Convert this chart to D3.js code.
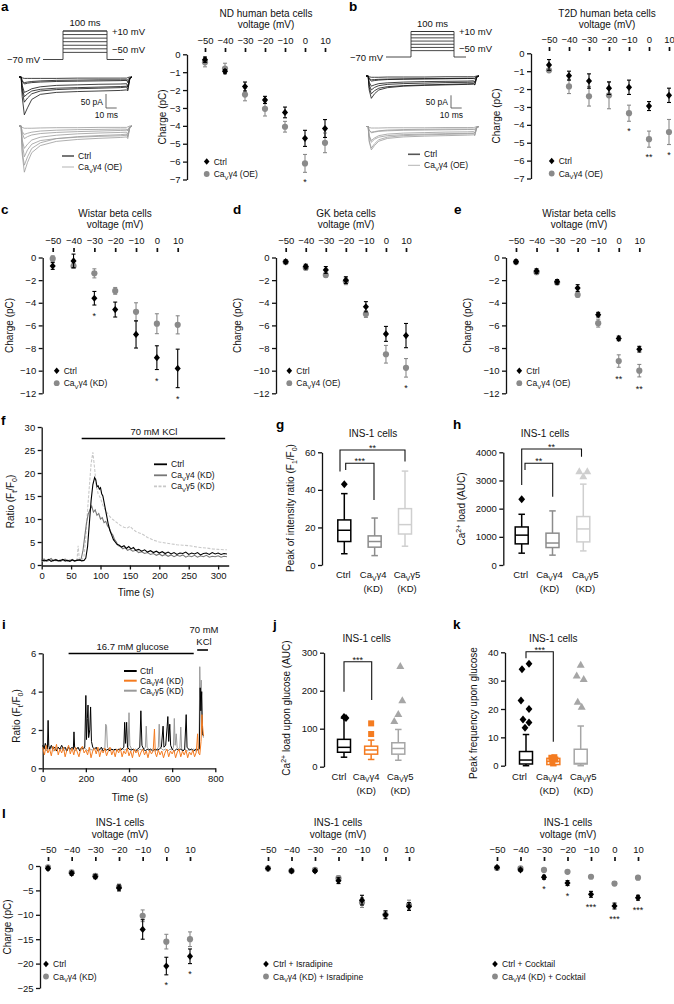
<!DOCTYPE html>
<html><head><meta charset="utf-8">
<script src="https://cdn.jsdelivr.net/npm/d3@7"></script>
<style>body{margin:0;background:#fff}svg{display:block}</style>
</head><body><script>
// ---------------- DATA ----------------
const voltages = [-50,-40,-30,-20,-10,0,10];
// a: ND human beta cells
const aCtrlMean = [-0.3,-0.95,-1.8,-2.55,-3.25,-4.7,-4.15];
const aCtrlErr  = [0.15,0.1,0.25,0.2,0.3,0.45,0.5];
const aOEMean   = [-0.45,-0.8,-2.25,-3.05,-4.05,-6.1,-4.95];
const aOEErr    = [0.25,0.3,0.35,0.4,0.3,0.5,0.55];
const aStars    = ["","","","","","*",""];
// b: T2D human beta cells
const bCtrlMean = [-0.65,-1.25,-1.55,-1.95,-1.9,-2.95,-2.35];
const bCtrlErr  = [0.3,0.25,0.4,0.35,0.4,0.25,0.4];
const bOEMean   = [-0.95,-1.85,-2.4,-2.35,-3.35,-4.8,-4.4];
const bOEErr    = [0.1,0.4,0.55,0.75,0.45,0.45,0.7];
const bStars    = ["","","","","*","**","*"];
// c: Wistar (KD)
const cCtrlMean = [-0.75,-0.3,-3.6,-4.6,-6.8,-8.85,-9.8];
const cCtrlErr  = [0.3,0.6,0.6,0.66,1.2,1.05,1.7];
const cKDMean   = [-0.1,-0.75,-1.4,-2.95,-4.8,-5.85,-5.95];
const cKDErr    = [0.25,0.2,0.4,0.3,0.8,0.88,0.8];
const cStars    = ["","","*","","","*","*"];
// d: GK (OE)
const dCtrlMean = [-0.37,-0.8,-1.1,-2.0,-4.35,-6.75,-6.9];
const dCtrlErr  = [0.15,0.2,0.3,0.3,0.45,0.66,1.07];
const dOEMean   = [-0.4,-0.9,-1.55,-2.1,-5.0,-8.55,-9.75];
const dOEErr    = [0.15,0.2,0.2,0.3,0.3,0.78,0.82];
const dStars    = ["","","","","","","*"];
// e: Wistar (OE)
const eCtrlMean = [-0.37,-1.2,-2.15,-2.7,-5.05,-7.15,-8.1];
const eCtrlErr  = [0.15,0.2,0.2,0.3,0.2,0.2,0.25];
const eOEMean   = [-0.4,-1.3,-2.2,-3.3,-5.8,-9.15,-10.0];
const eOEErr    = [0.1,0.15,0.1,0.2,0.35,0.55,0.55];
const eStars    = ["","","","","","**","**"];
// l: INS-1 cells
const l1CtrlMean = [-0.5,-1.5,-2.2,-4.5,-13,-20.5,-18.5];
const l1CtrlErr  = [0.3,0.4,0.4,0.6,2.0,1.8,1.5];
const l1KDMean   = [-0.3,-1.3,-2.0,-4.3,-10.2,-15.5,-15];
const l1KDErr    = [0.3,0.4,0.4,0.6,1.2,1.5,1.5];
const l1Stars    = ["","","","","","*","*"];
const l2CtrlMean = [-0.5,-1.0,-1.0,-3.0,-7.0,-10,-8.3];
const l2CtrlErr  = [0.2,0.3,0.3,0.6,1.0,0.8,0.8];
const l2KDMean   = [-0.5,-1.0,-0.8,-2.5,-7.5,-10,-8.0];
const l2KDErr    = [0.2,0.3,0.3,0.5,1.0,0.8,1.0];
const l2Stars    = ["","","","","","",""];
const l3CtrlMean = [-0.3,-0.8,-2.3,-3.5,-5.8,-8.2,-6.5];
const l3CtrlErr  = [0.2,0.3,0.4,0.5,0.6,0.6,0.5];
const l3KDMean   = [-0.4,-0.5,-0.8,-1.2,-2.2,-3.6,-2.4];
const l3KDErr    = [0.2,0.2,0.3,0.3,0.3,0.4,0.4];
const l3Stars    = ["","","*","*","***","***","***"];

// ephys traces: time (ms) and current (pA) per step voltage
const traceTime = [0,2,3,5,8,12,20,35,55,75,95,101,102,104,106];
const aTraceCtrl = [
 [0,0,-3,-5,-5,-5,-5,-5,-4,-4,-4,-4,-2,0,0],
 [0,0,-15,-20,-18,-16,-14,-12,-11,-10,-10,-10,-20,-3,0],
 [0,0,-30,-55,-50,-42,-35,-30,-28,-26,-25,-24,-35,-5,0],
 [0,0,-50,-90,-75,-60,-50,-45,-42,-40,-38,-36,-45,-6,0],
 [0,0,-70,-135,-110,-80,-62,-55,-52,-50,-48,-46,-50,-6,0],
 [0,0,-40,-70,-60,-50,-44,-40,-38,-36,-34,-33,-35,-4,0],
 [0,0,-15,-25,-22,-20,-18,-16,-15,-14,-13,-12,-10,-2,0]];
const aTraceOE = [
 [0,0,-5,-8,-8,-8,-7,-6,-6,-5,-5,-5,-3,0,0],
 [0,0,-20,-30,-26,-22,-18,-15,-13,-12,-11,-11,-18,-3,0],
 [0,0,-50,-80,-65,-50,-40,-33,-28,-25,-23,-22,-30,-4,0],
 [0,0,-90,-140,-110,-80,-60,-45,-38,-34,-31,-29,-40,-5,0],
 [0,0,-100,-165,-130,-95,-70,-55,-48,-44,-41,-39,-45,-5,0],
 [0,0,-60,-110,-85,-65,-52,-45,-40,-37,-35,-33,-35,-4,0],
 [0,0,-25,-45,-38,-32,-27,-23,-20,-18,-16,-15,-12,-2,0]];
const bTraceCtrl = [
 [0,0,-3,-5,-5,-5,-4,-4,-4,-3,-3,-3,-2,0,0],
 [0,0,-10,-15,-14,-13,-12,-11,-10,-10,-9,-9,-12,-2,0],
 [0,0,-25,-40,-35,-30,-27,-24,-22,-21,-20,-19,-25,-3,0],
 [0,0,-45,-70,-58,-48,-42,-38,-35,-33,-31,-30,-35,-4,0],
 [0,0,-55,-88,-70,-55,-46,-40,-37,-35,-33,-32,-35,-4,0],
 [0,0,-35,-55,-45,-38,-33,-30,-28,-26,-25,-24,-25,-3,0],
 [0,0,-12,-20,-18,-16,-14,-13,-12,-11,-10,-10,-8,-1,0]];
const bTraceOE = [
 [0,0,-4,-6,-6,-6,-5,-5,-5,-4,-4,-4,-3,0,0],
 [0,0,-15,-22,-20,-17,-14,-12,-11,-10,-10,-10,-14,-2,0],
 [0,0,-35,-55,-45,-36,-30,-26,-24,-22,-21,-20,-26,-3,0],
 [0,0,-55,-85,-68,-52,-42,-36,-33,-31,-29,-28,-34,-4,0],
 [0,0,-60,-92,-75,-58,-47,-41,-38,-36,-34,-33,-36,-4,0],
 [0,0,-40,-62,-50,-42,-36,-32,-30,-28,-27,-26,-26,-3,0],
 [0,0,-15,-25,-22,-19,-17,-15,-14,-13,-12,-12,-9,-1,0]];

// f: KCl traces [time s, ratio]
const fCtrl = [[0,1.1],[4,0.9],[8,1.0],[12,1.2],[16,0.8],[20,1.0],[24,1.1],[28,0.9],[32,1.0],[36,1.2],[40,0.9],[44,1.0],[48,0.8],[52,1.1],[56,0.9],[60,1.0],[64,1.1],[68,0.9],[72,1.0],[75,1.5],[78,4],[81,9],[84,14],[87,17.5],[90,19],[92,18.5],[94,17],[96,17.2],[98,16.5],[100,16.8],[102,15.5],[104,15],[107,13],[110,11],[113,9],[116,7.5],[119,6.5],[122,5.5],[125,5],[128,4.5],[132,4.3],[136,3.9],[140,4.2],[144,3.6],[148,4.0],[152,3.5],[156,3.8],[160,3.2],[165,3.4],[170,3.0],[175,3.3],[180,2.8],[185,3.1],[190,2.7],[195,3.0],[200,2.6],[205,2.9],[210,2.5],[215,2.8],[220,2.4],[225,2.7],[230,2.3],[235,2.6],[240,2.5],[245,2.8],[250,2.3],[255,2.6],[260,2.4],[265,2.7],[270,2.2],[275,2.5],[280,2.6],[285,2.3],[290,2.7],[295,2.4],[300,2.6],[305,2.3],[310,2.5],[315,2.4]];
const fG4 = [[0,1.0],[4,1.3],[8,0.8],[12,1.1],[16,1.4],[20,0.9],[24,1.2],[28,1.0],[32,0.8],[36,1.1],[40,1.3],[44,0.9],[48,1.0],[52,1.2],[56,0.8],[60,1.1],[64,1.0],[67,1.3],[70,3],[73,6],[76,9],[79,11],[82,12],[85,12.8],[88,11.5],[91,12],[94,10.8],[97,11.2],[100,10],[103,10.3],[106,9.2],[109,9.5],[112,8.5],[115,8],[118,7],[121,6.5],[124,5.5],[127,5],[130,4.2],[134,4],[138,3.5],[142,3.8],[146,3.2],[150,3.4],[155,3.0],[160,3.2],[165,2.7],[170,2.9],[175,2.5],[180,2.7],[185,2.3],[190,2.5],[195,2.1],[200,2.4],[205,2.0],[210,2.3],[215,1.9],[220,2.2],[225,1.8],[230,2.1],[235,1.9],[240,2.2],[245,1.7],[250,2.0],[255,1.8],[260,2.1],[265,1.7],[270,2.0],[275,1.8],[280,2.1],[285,1.7],[290,1.9],[295,1.8],[300,2.0],[305,1.7],[310,1.9],[315,1.8]];
const fG5 = [[0,0.9],[5,1.0],[10,0.8],[15,1.1],[20,1.0],[25,0.9],[30,1.1],[35,1.0],[40,0.8],[45,1.0],[50,1.1],[55,0.9],[60,1.0],[62,4.2],[64,1.2],[68,1.0],[72,2],[75,6],[78,12],[81,17],[84,22],[87,24.5],[90,21],[93,17],[96,15.5],[100,14.5],[104,13],[108,12],[112,11.2],[116,10.5],[120,10],[125,9.5],[130,9],[135,8.5],[140,8.2],[145,8.0],[150,8.4],[155,7.8],[160,7.3],[165,7.0],[170,6.8],[175,6.4],[180,6.0],[185,5.7],[190,5.4],[195,5.2],[200,5.0],[210,4.8],[220,4.6],[230,4.4],[240,4.3],[250,4.2],[260,4.0],[270,3.8],[280,3.7],[290,3.5],[300,3.4],[310,3.3],[315,3.3]];

// i: glucose traces
const iCtrl = [[0,1.2],[6,1.0],[12,1.3],[18,1.1],[22,1.0],[25,2.5],[28,1.2],[32,1.0],[40,1.2],[48,1.0],[56,1.1],[64,0.9],[72,1.1],[80,1.0],[88,1.2],[96,1.0],[104,1.1],[112,0.9],[120,1.1],[128,1.0],[136,1.1],[142,1.0],[145,1.9],[148,1.1],[156,1.0],[164,1.1],[172,0.9],[180,1.1],[188,1.0],[195,1.1],[200,3.8],[203,1.5],[207,2.6],[210,3.3],[213,1.6],[218,2.0],[222,3.2],[226,1.4],[232,1.1],[240,1.0],[248,1.1],[256,0.9],[264,1.0],[272,1.1],[280,0.9],[288,1.0],[296,0.95],[304,1.0],[312,0.9],[320,1.0],[328,0.95],[336,1.0],[344,0.9],[352,1.0],[360,0.95],[368,1.0],[376,1.1],[380,2.4],[384,1.3],[389,2.4],[393,1.1],[400,1.0],[410,0.95],[420,1.0],[430,0.9],[440,1.0],[450,1.1],[455,3.0],[460,1.2],[468,1.0],[476,0.9],[484,1.0],[492,0.95],[500,1.0],[510,0.9],[520,1.0],[530,0.95],[540,1.0],[550,1.1],[558,2.2],[562,1.1],[570,1.2],[577,2.2],[580,2.7],[584,1.4],[589,2.3],[593,1.2],[600,1.0],[610,0.9],[620,1.0],[630,0.95],[640,1.0],[650,0.9],[658,1.0],[665,2.8],[669,1.1],[680,0.95],[690,1.0],[700,0.9],[710,1.0],[720,0.95],[726,1.0],[730,4.2],[733,3.0],[737,4.0],[740,1.8],[745,1.7]];
const iG5 = [[0,1.0],[8,1.1],[16,0.9],[24,1.05],[32,0.95],[40,1.1],[50,0.9],[60,1.0],[70,1.1],[80,0.95],[90,1.05],[100,0.9],[110,1.0],[120,1.1],[130,0.95],[140,1.0],[150,0.9],[160,1.05],[170,1.0],[180,0.95],[190,1.1],[200,1.0],[210,0.9],[220,1.0],[230,0.95],[240,1.05],[250,1.0],[260,0.9],[270,1.0],[280,1.05],[288,1.0],[292,2.3],[296,2.2],[300,1.1],[310,0.95],[320,1.0],[330,0.9],[340,1.0],[350,0.95],[360,1.05],[370,1.0],[380,0.95],[390,1.0],[396,1.1],[400,2.9],[404,1.2],[412,1.0],[420,0.95],[430,1.0],[440,0.9],[450,1.0],[460,0.95],[470,1.0],[476,1.1],[480,2.2],[484,1.1],[492,1.0],[500,0.95],[510,1.0],[520,0.9],[530,1.0],[536,1.1],[540,2.3],[544,1.1],[552,1.0],[560,0.95],[570,1.0],[580,0.9],[590,1.0],[600,0.95],[606,1.1],[610,2.6],[614,1.2],[619,1.8],[623,1.1],[630,1.0],[636,1.1],[640,2.15],[644,1.0],[652,0.95],[660,1.0],[670,0.9],[680,1.0],[690,0.95],[700,1.0],[710,0.9],[720,1.0],[725,1.2],[728,5.3],[731,3.5],[735,4.6],[739,2.0],[745,1.6]];
const iG4 = [[0,1.1],[8,0.7],[16,1.2],[24,0.8],[32,1.0],[40,0.65],[48,1.15],[56,0.9],[64,1.25],[72,0.7],[80,1.0],[88,0.8],[96,1.1],[104,0.6],[112,0.95],[120,1.2],[128,0.75],[136,1.05],[144,0.7],[152,1.1],[160,0.85],[168,0.6],[176,1.0],[184,1.15],[192,0.8],[200,0.95],[208,0.7],[216,1.1],[224,0.55],[232,0.9],[240,1.05],[248,0.75],[256,1.1],[264,0.6],[272,0.95],[280,0.8],[288,1.05],[296,0.65],[304,0.9],[312,1.1],[320,0.7],[328,0.95],[336,0.6],[344,1.0],[352,0.8],[360,1.05],[368,0.6],[376,0.9],[384,0.75],[392,1.05],[400,0.65],[408,0.9],[416,0.55],[424,1.0],[432,0.8],[440,0.95],[448,0.6],[456,0.85],[464,1.0],[472,0.7],[480,0.9],[488,0.55],[496,0.95],[504,0.75],[512,0.9],[518,2.05],[522,0.8],[528,0.6],[536,0.95],[544,0.7],[552,0.9],[560,0.55],[568,0.85],[576,1.0],[584,0.6],[592,0.9],[600,0.75],[608,0.95],[616,0.55],[624,0.85],[632,1.0],[640,0.6],[648,0.9],[656,0.7],[664,0.95],[672,0.55],[680,0.85],[688,0.7],[696,0.95],[704,0.6],[712,0.85],[718,1.8],[722,0.8],[728,0.7],[734,1.4],[738,2.8],[741,2.2],[745,1.7]];

// box plots
const boxCats = ["Ctrl","Ca_{V}γ4","Ca_{V}γ5"];
const boxCats2 = ["","(KD)","(KD)"];
const gMin=[6,5,10], gQ1=[12.5,9.5,16.5], gMed=[18.5,12.5,21.5], gQ3=[24,15.5,30], gMax=[38,25,50], gOut=[[43],[],[]];
const hMin=[420,350,500], hQ1=[750,620,820], hMed=[1060,780,1280], hQ3=[1350,1130,1720], hMax=[1800,1920,2870], hOut=[[2330],[],[3150,3330,3330]];
const jMin=[25,19,17], jQ1=[38,33,33], jMed=[51,44,48], jQ3=[72,54,63], jMax=[128,70,98], jOut=[[131,128],[86,114],[120,139,175,265]];
const kMin=[0,0,0], kQ1=[0.6,0.4,0.6], kMed=[2,1.5,0.8], kQ3=[5,2.6,5.8], kMax=[11,3,14], kOut=[[34,36,23,20,16.3,15.2,13.4],[2.8,2.2,1.6,3.0],[35.6,31.8,30.6,22.6,20.8]];

// ---------------- DRAWING ----------------
const FONT = "'Liberation Sans', Arial, Helvetica, sans-serif";
const GRAY = "#8a8a8a", ORANGE = "#f47b20";
const fmtInt = d3.format("d");
const svg = d3.select("body").append("svg").attr("width",674).attr("height",1004)
  .attr("font-family",FONT).style("background","#fff");

function rich(t,s,fs){
  const parts=s.split(/(_\{[^}]*\}|\^\{[^}]*\})/).filter(p=>p.length);
  let cur=0;
  parts.forEach(p=>{
    let target=0,size=fs,str=p;
    if(p.startsWith("_{")){target=0.3*fs;size=0.7*fs;str=p.slice(2,-1);}
    else if(p.startsWith("^{")){target=-0.4*fs;size=0.7*fs;str=p.slice(2,-1);}
    t.append("tspan").attr("dy",(target-cur).toFixed(2)).attr("font-size",size).text(str);
    cur=target;
  });
}
function txt(x,y,s,opt={}){
  const fs=opt.fs||9.5;
  const t=svg.append("text").attr("x",x).attr("y",y).attr("font-size",fs)
    .attr("fill",opt.fill||"#111").attr("text-anchor",opt.anchor||"start");
  if(opt.weight) t.attr("font-weight",opt.weight);
  if(opt.rotate) t.attr("transform",`rotate(${opt.rotate},${x},${y})`);
  rich(t,s,fs);
  return t;
}
function styleAxis(a){
  a.attr("font-family",FONT).attr("font-size",9.5);
  a.selectAll("path.domain").attr("stroke","#111").attr("stroke-width",1.3);
  a.selectAll(".tick line").attr("stroke","#111").attr("stroke-width",1.3);
  a.selectAll(".tick text").attr("fill","#111");
}
const diamond = (h)=>`M0,${-h}L${h*0.85},0L0,${h}L${-h*0.85},0Z`;

function ivPlot(o){
  const g=svg.append("g");
  const x=d3.scaleLinear().domain([-50,10]).range(o.xr);
  const y=d3.scaleLinear().domain([0,o.yMin]).range([o.y0,o.y1]);
  if(o.title){
    txt(o.tx,o.titleY,o.title,{anchor:"middle",fs:10});
    txt(o.tx,o.titleY+11.5,"voltage (mV)",{anchor:"middle",fs:10});
  }
  const top=g.append("g").attr("transform",`translate(0,${o.markY})`)
    .call(d3.axisTop(x).tickValues(voltages).tickFormat(fmtInt).tickSize(4).tickPadding(4).tickSizeOuter(0));
  styleAxis(top); top.select(".domain").remove();
  top.selectAll(".tick line").attr("stroke-width",1.7);
  if(o.ax!==null){
    const ya=g.append("g").attr("transform",`translate(${o.ax},0)`)
      .call(d3.axisLeft(y).tickValues(o.yTicks).tickFormat(fmtInt).tickSize(4).tickPadding(2.5).tickSizeOuter(0));
    styleAxis(ya);
    txt(o.ylx,(o.y0+o.y1)/2,"Charge (pC)",{anchor:"middle",rotate:-90,fs:10});
  }
  const series=[{m:o.trM,e:o.trE,c:GRAY,shape:"circle"},{m:o.ctM,e:o.ctE,c:"#000",shape:"diamond"}];
  series.forEach(s=>{
    const d=voltages.map((v,i)=>({v,m:s.m[i],e:s.e[i]}));
    const gg=g.append("g").attr("stroke",s.c).attr("fill",s.c);
    gg.selectAll("line.v").data(d).join("line").attr("x1",q=>x(q.v)).attr("x2",q=>x(q.v))
      .attr("y1",q=>y(q.m-q.e)).attr("y2",q=>y(q.m+q.e)).attr("stroke-width",1.1);
    gg.selectAll("line.t").data(d.flatMap(q=>[q.m-q.e,q.m+q.e].map(z=>({v:q.v,z})))).join("line")
      .attr("x1",q=>x(q.v)-2).attr("x2",q=>x(q.v)+2).attr("y1",q=>y(q.z)).attr("y2",q=>y(q.z)).attr("stroke-width",1.1);
    if(s.shape==="circle") gg.selectAll("circle").data(d).join("circle").attr("cx",q=>x(q.v)).attr("cy",q=>y(q.m)).attr("r",3.1).attr("stroke","none");
    else gg.selectAll("path").data(d).join("path").attr("transform",q=>`translate(${x(q.v)},${y(q.m)})`).attr("d",diamond(3.6)).attr("stroke","none");
  });
  voltages.forEach((v,i)=>{
    if(!o.stars[i]) return;
    const low=Math.min(o.ctM[i]-o.ctE[i],o.trM[i]-o.trE[i]);
    txt(x(v),y(low)+o.starOff,o.stars[i],{anchor:"middle",fs:9});
  });
  const [lx,ly]=o.leg;
  g.append("path").attr("transform",`translate(${lx},${ly})`).attr("d",diamond(3.3)).attr("fill","#000");
  g.append("circle").attr("cx",lx).attr("cy",ly+12.5).attr("r",2.9).attr("fill",GRAY);
  txt(lx+7,ly+3,o.legLabels[0],{fs:8.5});
  txt(lx+7,ly+15.5,o.legLabels[1],{fs:8.5});
}

function protocol(o){
  const g=svg.append("g").attr("stroke","#333").attr("fill","none").attr("stroke-width",0.9);
  const lv=d3.scaleLinear().domain([-70,10]).range([o.base,o.top]);
  g.append("path").attr("d",`M${o.x0},${o.base}H${o.x1}V${lv(10)}H${o.x2}V${o.base}H${o.x3}`);
  voltages.forEach(v=>g.append("line").attr("x1",o.x1).attr("x2",o.x2).attr("y1",lv(v)).attr("y2",lv(v)));
  txt((o.x1+o.x2)/2,o.top-5,"100 ms",{anchor:"middle",fs:9.5});
  txt(o.x2+5,lv(10)+3.5,"+10 mV",{fs:9.5});
  txt(o.x2+5,lv(-50)+1,"−50 mV",{fs:9.5});
  txt(o.x0-3,o.base+3.5,"−70 mV",{anchor:"end",fs:9.5});
}
function traces(o){
  const x=d3.scaleLinear().domain([0,106]).range([o.x0,o.x0+113]);
  const yC=d3.scaleLinear().domain([0,-50]).range([o.baseC,o.baseC+o.k]);
  const yO=d3.scaleLinear().domain([0,-50]).range([o.baseO,o.baseO+o.k]);
  const lineC=d3.line().x((d,i)=>x(traceTime[i])).y(d=>yC(d));
  const lineO=d3.line().x((d,i)=>x(traceTime[i])).y(d=>yO(d));
  svg.append("g").selectAll("path").data(o.ctrl).join("path").attr("d",lineC).attr("fill","none").attr("stroke","#111").attr("stroke-width",0.8);
  svg.append("g").selectAll("path").data(o.oe).join("path").attr("d",lineO).attr("fill","none").attr("stroke","#9a9a9a").attr("stroke-width",0.8);
  svg.append("path").attr("d",`M${o.sb[0]},${o.sb[1]-o.k}V${o.sb[1]}H${o.sb[0]+10.7}`).attr("fill","none").attr("stroke","#555").attr("stroke-width",0.9);
  txt(o.sb[0]-3,o.sb[1]-3,"50 pA",{anchor:"end",fs:8.5});
  txt(o.sb[0]+12,o.sb[1]+10,"10 ms",{anchor:"end",fs:8.5});
  const [lx,ly]=o.leg;
  svg.append("line").attr("x1",lx).attr("x2",lx+12).attr("y1",ly).attr("y2",ly).attr("stroke","#555").attr("stroke-width",1.6);
  svg.append("line").attr("x1",lx).attr("x2",lx+12).attr("y1",ly+11).attr("y2",ly+11).attr("stroke","#aaa").attr("stroke-width",0.9);
  txt(lx+16,ly+3,"Ctrl",{fs:8.5});
  txt(lx+16,ly+14,"Ca_{V}γ4 (OE)",{fs:8.5});
}

function boxPlot(o){
  const g=svg.append("g");
  const y=d3.scaleLinear().domain(o.yd).range(o.yr);
  const x=d3.scalePoint().domain(boxCats).range(o.xr);
  const ya=g.append("g").attr("transform",`translate(${o.ax},0)`)
    .call(d3.axisLeft(y).tickValues(o.ticks).tickFormat(fmtInt).tickSize(4).tickPadding(2.5).tickSizeOuter(0));
  styleAxis(ya);
  txt(o.tcx,o.titleY,"INS-1 cells",{anchor:"middle",fs:10});
  txt(o.ylx,o.yly,o.ylab,{anchor:"middle",rotate:-90,fs:10});
  const bw=13, cw=6.5;
  boxCats.forEach((c,i)=>{
    const cx=x(c), col=o.colors[i];
    const b=g.append("g").attr("stroke",col).attr("stroke-width",1.5).attr("fill","none");
    b.append("line").attr("x1",cx).attr("x2",cx).attr("y1",y(o.max[i])).attr("y2",y(o.q3[i]));
    b.append("line").attr("x1",cx).attr("x2",cx).attr("y1",y(o.q1[i])).attr("y2",y(o.min[i]));
    [o.max[i],o.min[i]].forEach(v=>b.append("line").attr("x1",cx-cw/2).attr("x2",cx+cw/2).attr("y1",y(v)).attr("y2",y(v)));
    b.append("rect").attr("x",cx-bw/2).attr("width",bw).attr("y",y(o.q3[i])).attr("height",y(o.q1[i])-y(o.q3[i])).attr("fill","#fff");
    b.append("line").attr("x1",cx-bw/2).attr("x2",cx+bw/2).attr("y1",y(o.med[i])).attr("y2",y(o.med[i]));
    o.out[i].forEach((v,j)=>{
      const ox=cx+(o.jit?o.jit[i][j]:0);
      if(i===0) g.append("path").attr("transform",`translate(${ox},${y(v)})`).attr("d",diamond(4)).attr("fill",col);
      else if(i===1) g.append("rect").attr("x",ox-3).attr("y",y(v)-3).attr("width",6).attr("height",6).attr("fill",col);
      else g.append("path").attr("transform",`translate(${ox},${y(v)})`).attr("d","M0,-4L4,3L-4,3Z").attr("fill",col);
    });
    const lx=cx+(o.labDx?o.labDx[i]:0);
    txt(lx,o.labY,boxCats[i],{anchor:"middle",fs:9.5});
    if(boxCats2[i]) txt(lx,o.labY+14,boxCats2[i],{anchor:"middle",fs:9.5});
  });
  o.br.forEach(b=>{
    g.append("path").attr("d",`M${b.x1},${b.y1}V${b.top}H${b.x2}V${b.y2}`).attr("fill","none").attr("stroke","#111").attr("stroke-width",1.1);
    txt((b.x1+b.x2)/2,b.top+1,b.label,{anchor:"middle",fs:9});
  });
}

// ---- panel letters
[["a",1,11],["b",349,11],["c",1,214],["d",233,214],["e",454,214],["f",1,425],["g",276,429],["h",453,429],["i",2,629],["j",273,629],["k",453,629],["l",2,818]]
  .forEach(([s,x,y])=>txt(x,y,s,{fs:13.5,weight:"bold",fill:"#000"}));

// ---- a & b protocols and traces
protocol({x0:43,x1:63,x2:107,x3:124,base:59.5,top:31});
protocol({x0:386,x1:411,x2:454,x3:466,base:57,top:31.5});
traces({x0:19,baseC:77,baseO:126,k:14,ctrl:aTraceCtrl,oe:aTraceOE,sb:[106,108],leg:[62,156]});
traces({x0:366,baseC:76,baseO:126.5,k:12.7,ctrl:bTraceCtrl,oe:bTraceOE,sb:[451,108],leg:[408,154.3]});

// ---- IV plots
ivPlot({xr:[205,325],ax:187,yMin:-7,y0:54.3,y1:179.5,yTicks:[0,-1,-2,-3,-4,-5,-6,-7],tx:266,titleY:16.5,markY:52,
  title:"ND human beta cells",ylx:166.5,ctM:aCtrlMean,ctE:aCtrlErr,trM:aOEMean,trE:aOEErr,stars:aStars,starOff:13,
  leg:[206.7,161.5],legLabels:["Ctrl","Ca_{V}γ4 (OE)"]});
ivPlot({xr:[549,669],ax:531,yMin:-7,y0:53.3,y1:178.5,yTicks:[0,-1,-2,-3,-4,-5,-6,-7],tx:607,titleY:16.5,markY:51,
  title:"T2D human beta cells",ylx:500.5,ctM:bCtrlMean,ctE:bCtrlErr,trM:bOEMean,trE:bOEErr,stars:bStars,starOff:13,
  leg:[551.7,161],legLabels:["Ctrl","Ca_{V}γ4 (OE)"]});
const ycTicks=[0,-2,-4,-6,-8,-10,-12];
ivPlot({xr:[52.7,177.7],ax:42.7,yMin:-12,y0:257.5,y1:393.3,yTicks:ycTicks,tx:115,titleY:216.5,markY:252,
  title:"Wistar beta cells",ylx:13.5,ctM:cCtrlMean,ctE:cCtrlErr,trM:cKDMean,trE:cKDErr,stars:cStars,starOff:14,
  leg:[56.7,370.7],legLabels:["Ctrl","Ca_{V}γ4 (KD)"]});
ivPlot({xr:[285.7,406],ax:276,yMin:-12,y0:257.5,y1:393.3,yTicks:ycTicks,tx:346,titleY:216.5,markY:252,
  title:"GK beta cells",ylx:241.5,ctM:dCtrlMean,ctE:dCtrlErr,trM:dOEMean,trE:dOEErr,stars:dStars,starOff:14,
  leg:[289.3,370.7],legLabels:["Ctrl","Ca_{V}γ4 (OE)"]});
ivPlot({xr:[516,639.3],ax:506,yMin:-12,y0:257.5,y1:393.3,yTicks:ycTicks,tx:579,titleY:216.5,markY:252,
  title:"Wistar beta cells",ylx:471.5,ctM:eCtrlMean,ctE:eCtrlErr,trM:eOEMean,trE:eOEErr,stars:eStars,starOff:15,
  leg:[519.3,370.7],legLabels:["Ctrl","Ca_{V}γ4 (OE)"]});

// ---- f
(function(){
  const x=d3.scaleLinear().domain([0,318]).range([41.7,228.7]);
  const y=d3.scaleLinear().domain([0,30]).range([565,427]);
  const xa=svg.append("g").attr("transform","translate(0,565.5)").call(d3.axisBottom(x).tickValues([0,50,100,150,200,250,300]).tickFormat(fmtInt).tickSize(4).tickPadding(3).tickSizeOuter(0));
  styleAxis(xa);
  const ya=svg.append("g").attr("transform","translate(41.7,0)").call(d3.axisLeft(y).tickValues([0,5,10,15,20,25,30]).tickFormat(fmtInt).tickSize(4).tickPadding(2.5).tickSizeOuter(0));
  styleAxis(ya);
  const ln=d3.line().x(d=>x(d[0])).y(d=>y(d[1]));
  svg.append("path").datum(fG5).attr("d",ln).attr("fill","none").attr("stroke","#c8c8c8").attr("stroke-width",1.1).attr("stroke-dasharray","3,1.5");
  svg.append("path").datum(fG4).attr("d",ln).attr("fill","none").attr("stroke","#777").attr("stroke-width",1.1);
  svg.append("path").datum(fCtrl).attr("d",ln).attr("fill","none").attr("stroke","#000").attr("stroke-width",1.1);
  svg.append("line").attr("x1",x(68)).attr("x2",x(312)).attr("y1",438.5).attr("y2",438.5).attr("stroke","#000").attr("stroke-width",1.6);
  txt(154,435,"70 mM  KCl",{anchor:"middle",fs:9.5});
  txt(136,596,"Time (s)",{anchor:"middle",fs:10});
  txt(13.5,501.5,"Ratio (F_{t}/F_{0})",{anchor:"middle",rotate:-90,fs:10});
  const leg=[["Ctrl","#000",null,464.3],["Ca_{V}γ4 (KD)","#777",null,475.3],["Ca_{V}γ5 (KD)","#c8c8c8","3,1.5",486.3]];
  leg.forEach(([t,c,da,yy])=>{
    svg.append("line").attr("x1",154).attr("x2",167).attr("y1",yy).attr("y2",yy).attr("stroke",c).attr("stroke-width",1.8).attr("stroke-dasharray",da);
    txt(171,yy+3,t,{fs:8.5});
  });
})();

// ---- g, h
boxPlot({yd:[0,60],yr:[565,452.3],ticks:[0,20,40,60],ax:322,xr:[344.3,405],tcx:373,titleY:436.5,
  ylab:"Peak of intensity ratio (F_{1}/F_{0})",ylx:293.5,yly:508,labY:578,labDx:[-1,-1.5,2],colors:["#000","#8c8c8c","#cfcfcf"],
  min:gMin,q1:gQ1,med:gMed,q3:gQ3,max:gMax,out:gOut,
  br:[{x1:340,y1:471.5,top:450,x2:405,y2:461.5,label:"**"},{x1:345.7,y1:470,top:463.3,x2:374,y2:500,label:"***"}]});
boxPlot({yd:[0,4000],yr:[565,452.3],ticks:[0,1000,2000,3000,4000],ax:503.3,xr:[521.7,583.3],tcx:545,titleY:436.5,
  ylab:"Ca^{2+} load (AUC)",ylx:465,yly:509,labY:578,labDx:[-1,-3,2],colors:["#000","#8c8c8c","#cfcfcf"],
  min:hMin,q1:hQ1,med:hMed,q3:hQ3,max:hMax,out:hOut,jit:[[0],[],[0,-4,4]],
  br:[{x1:521.7,y1:485,top:449,x2:581.5,y2:456.7,label:"**"},{x1:525,y1:470,top:463.3,x2:552.7,y2:496.7,label:"**"}]});

// ---- i
(function(){
  const x=d3.scaleLinear().domain([0,800]).range([42.7,215.3]);
  const y=d3.scaleLinear().domain([0,6]).range([768.3,653.3]);
  const xa=svg.append("g").attr("transform","translate(0,768.3)").call(d3.axisBottom(x).tickValues([0,200,400,600,800]).tickFormat(fmtInt).tickSize(4).tickPadding(3).tickSizeOuter(0));
  styleAxis(xa);
  const ya=svg.append("g").attr("transform","translate(42.7,0)").call(d3.axisLeft(y).tickValues([0,2,4,6]).tickFormat(fmtInt).tickSize(4).tickPadding(2.5).tickSizeOuter(0));
  styleAxis(ya);
  const ln=d3.line().x(d=>x(d[0])).y(d=>y(d[1]));
  svg.append("path").datum(iG5).attr("d",ln).attr("fill","none").attr("stroke","#9a9a9a").attr("stroke-width",1);
  svg.append("path").datum(iCtrl).attr("d",ln).attr("fill","none").attr("stroke","#000").attr("stroke-width",1);
  svg.append("path").datum(iG4).attr("d",ln).attr("fill","none").attr("stroke",ORANGE).attr("stroke-width",1);
  svg.append("line").attr("x1",x(120)).attr("x2",x(700)).attr("y1",653.5).attr("y2",653.5).attr("stroke","#000").attr("stroke-width",1.6);
  svg.append("line").attr("x1",x(716)).attr("x2",x(766)).attr("y1",650).attr("y2",650).attr("stroke","#000").attr("stroke-width",1.6);
  txt(132.7,650,"16.7 mM glucose",{anchor:"middle",fs:9.5});
  txt(204,632.5,"70 mM",{anchor:"middle",fs:9.5});
  txt(204,645,"KCl",{anchor:"middle",fs:9.5});
  txt(130,801,"Time (s)",{anchor:"middle",fs:10});
  txt(19.5,716,"Ratio (F_{t}/F_{0})",{anchor:"middle",rotate:-90,fs:10});
  const leg=[["Ctrl","#000",671],["Ca_{V}γ4 (KD)",ORANGE,680.7],["Ca_{V}γ5 (KD)","#9a9a9a",690.7]];
  leg.forEach(([t,c,yy])=>{
    svg.append("line").attr("x1",124).attr("x2",136.7).attr("y1",yy).attr("y2",yy).attr("stroke",c).attr("stroke-width",2);
    txt(140,yy+3,t,{fs:8.5});
  });
})();

// ---- j, k
boxPlot({yd:[0,300],yr:[766.7,652.7],ticks:[0,100,200,300],ax:324,xr:[344,398.3],tcx:366.7,titleY:641.5,
  ylab:"Ca^{2+} load upon glucose (AUC)",ylx:290,yly:708,labY:779.5,labDx:[-5,-5,2],colors:["#000",ORANGE,"#a6a6a6"],
  min:jMin,q1:jQ1,med:jMed,q3:jQ3,max:jMax,out:jOut,jit:[[0,2],[0,0],[-4,0,4,2]],
  br:[{x1:344,y1:691.7,top:661.7,x2:371.7,y2:700,label:"***"}]});
boxPlot({yd:[0,40],yr:[765.7,652.3],ticks:[0,10,20,30,40],ax:505,xr:[526,580.7],tcx:553.3,titleY:641.5,
  ylab:"Peak frequency upon glucose",ylx:476.5,yly:713,labY:779.5,labDx:[-6.5,-4,2.6],colors:["#000",ORANGE,"#a6a6a6"],
  min:kMin,q1:kQ1,med:kMed,q3:kQ3,max:kMax,out:kOut,jit:[[-4,3,-5,3,-3,3,-1],[-2,2,-1,1],[0,-4,3,-3,1]],
  br:[{x1:526,y1:658.3,top:651.7,x2:553.3,y2:741.7,label:"***"}]});

// ---- l
const ylTicks=[0,-5,-10,-15,-20,-25];
ivPlot({xr:[48,190],ax:40,yMin:-25,y0:866,y1:988,yTicks:ylTicks,tx:120,titleY:826,markY:861,
  title:"INS-1 cells",ylx:11,ctM:l1CtrlMean,ctE:l1CtrlErr,trM:l1KDMean,trE:l1KDErr,stars:l1Stars,starOff:13,
  leg:[46,964],legLabels:["Ctrl","Ca_{V}γ4 (KD)"]});
ivPlot({xr:[268,409],ax:null,yMin:-25,y0:866,y1:988,yTicks:ylTicks,tx:338,titleY:826,markY:861,
  title:"INS-1 cells",ctM:l2CtrlMean,ctE:l2CtrlErr,trM:l2KDMean,trE:l2KDErr,stars:l2Stars,starOff:13,
  leg:[266,964],legLabels:["Ctrl + Isradipine","Ca_{V}γ4 (KD) + Isradipine"]});
ivPlot({xr:[497,638],ax:null,yMin:-25,y0:866,y1:988,yTicks:ylTicks,tx:568,titleY:826,markY:861,
  title:"INS-1 cells",ctM:l3CtrlMean,ctE:l3CtrlErr,trM:l3KDMean,trE:l3KDErr,stars:l3Stars,starOff:13,
  leg:[495,964],legLabels:["Ctrl + Cocktail","Ca_{V}γ4 (KD) + Cocktail"]});
</script></body></html>
